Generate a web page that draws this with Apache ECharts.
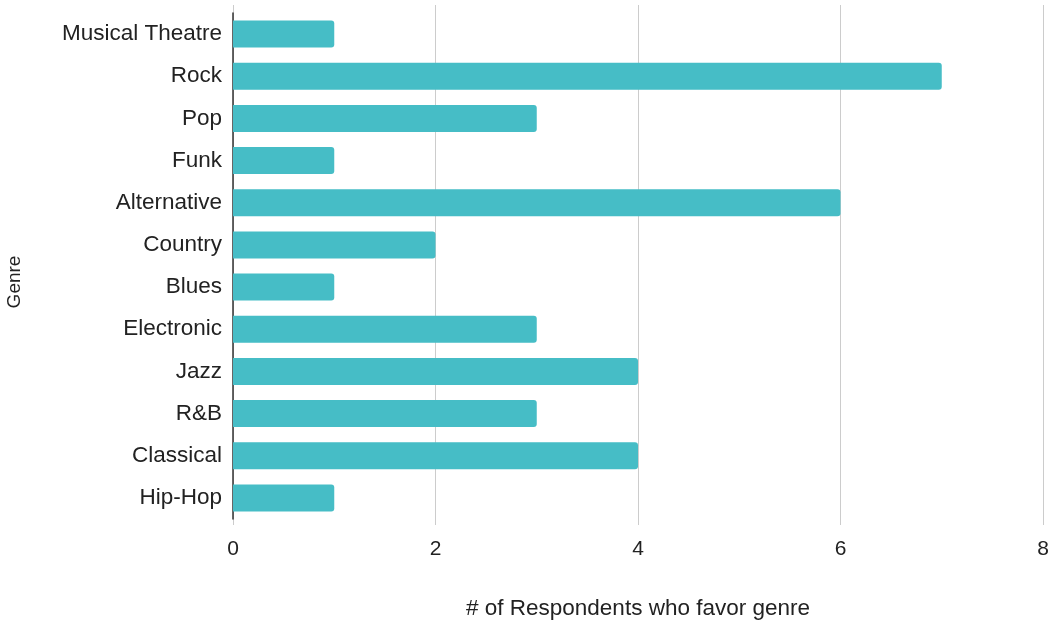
<!DOCTYPE html>
<html>
<head>
<meta charset="utf-8">
<script src="https://cdn.jsdelivr.net/npm/echarts@6/dist/echarts.min.js"></script>
<style>
  html, body { margin: 0; padding: 0; background: #fff; }
  #chart { width: 1052px; height: 620px; }
</style>
</head>
<body>
<div id="chart"></div>
<script>
// Favourite music genre per respondent, listed top to bottom
const genres = ['Musical Theatre', 'Rock', 'Pop', 'Funk', 'Alternative', 'Country',
                'Blues', 'Electronic', 'Jazz', 'R&B', 'Classical', 'Hip-Hop'];
const respondents = [1, 7, 3, 1, 6, 2, 1, 3, 4, 3, 4, 1];
const xTicks = [0, 2, 4, 6, 8];

const chart = echarts.init(document.getElementById('chart'), null, { renderer: 'canvas' });

const font = '"Liberation Sans", Arial, sans-serif';
const textColor = '#222222';
const xMin = xTicks[0];
const xMax = xTicks[xTicks.length - 1];
const xStep = xTicks[1] - xTicks[0];

chart.setOption({
  animation: false,
  backgroundColor: '#ffffff',
  grid: [
    // taller grid carrying the vertical gridlines and the value labels
    { left: 233, right: 9, top: 5, bottom: 95, outerBoundsMode: 'none', containLabel: false },
    // grid holding the bars and genre labels
    { left: 233, right: 9, top: 13, bottom: 101, outerBoundsMode: 'none', containLabel: false }
  ],
  xAxis: [{
    type: 'value',
    gridIndex: 0,
    min: xMin,
    max: xMax,
    interval: xStep,
    axisLine: { show: false },
    axisTick: { show: false },
    splitLine: { show: true, lineStyle: { color: '#cccccc', width: 1 } },
    axisLabel: { color: textColor, fontSize: 21, fontFamily: font, margin: 14 },
    name: '# of Respondents who favor genre',
    nameLocation: 'middle',
    nameGap: 72,
    nameTextStyle: { color: textColor, fontSize: 22.5, fontFamily: font }
  }, {
    type: 'value',
    gridIndex: 1,
    min: xMin,
    max: xMax,
    interval: xStep,
    show: false
  }],
  yAxis: [{
    type: 'category',
    gridIndex: 0,
    data: genres,
    show: false
  }, {
    type: 'category',
    gridIndex: 1,
    data: genres,
    inverse: true,
    axisLine: { show: true, lineStyle: { color: '#333333', width: 1.5 } },
    axisTick: { show: false },
    axisLabel: { color: textColor, fontSize: 22.5, fontFamily: font, margin: 11 }
  }],
  graphic: [{
    type: 'text',
    x: 15,
    y: 282,
    rotation: Math.PI / 2,
    style: {
      text: 'Genre', fill: textColor, font: '19px ' + font,
      align: 'center', verticalAlign: 'middle'
    }
  }],
  series: [{
    type: 'bar',
    xAxisIndex: 1,
    yAxisIndex: 1,
    data: respondents,
    barCategoryGap: '36%',
    itemStyle: { color: '#46BDC6', borderRadius: [0, 3, 3, 0] }
  }]
});
</script>
</body>
</html>
